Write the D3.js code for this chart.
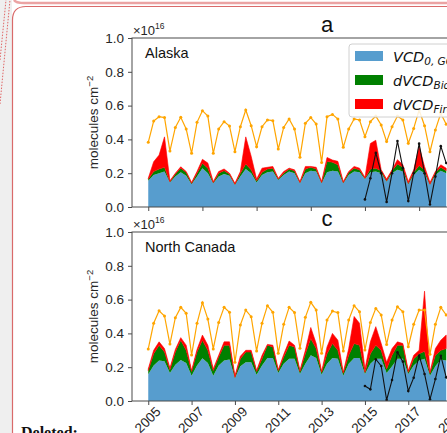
<!DOCTYPE html>
<html>
<head>
<meta charset="utf-8">
<script src="https://cdn.jsdelivr.net/npm/d3@7"></script>
<style>
  body { margin: 0; background: #fff; }
  svg { display: block; font-family: "Liberation Sans", Arial, sans-serif; }
</style>
</head>
<body>
<div id="chart"></div>
<script>
// quarterly samples, 2005.0 .. 2018.75
const quarters = d3.range(56).map(i => 2005 + i / 4);
const blackStart = 40; // satellite series begins 2015.0

const alaskaVcd0 = [0.155,0.19,0.20,0.21, 0.145,0.18,0.205,0.185, 0.135,0.18,0.229,0.2, 0.14,0.18,0.195,0.185,
  0.13,0.18,0.225,0.2, 0.145,0.19,0.205,0.21, 0.16,0.19,0.21,0.2, 0.14,0.2,0.215,0.21,
  0.14,0.205,0.215,0.21, 0.14,0.19,0.21,0.205, 0.165,0.205,0.21,0.2, 0.15,0.2,0.22,0.21,
  0.135,0.19,0.22,0.2, 0.13,0.19,0.215,0.2];
const alaskaBio = [0.01,0.02,0.025,0.025, 0.005,0.015,0.025,0.02, 0.005,0.02,0.03,0.03, 0.005,0.02,0.02,0.01,
  0.005,0.02,0.03,0.02, 0.01,0.015,0.02,0.02, 0.005,0.01,0.015,0.015, 0.005,0.025,0.02,0.015,
  0.005,0.065,0.05,0.04, 0.005,0.015,0.02,0.015, 0.005,0.02,0.02,0.015, 0.005,0.015,0.035,0.025,
  0.005,0.015,0.025,0.02, 0.005,0.015,0.02,0.015];
const alaskaFire = [0.005,0.058,0.082,0.18, 0.005,0.005,0.008,0.005, 0.005,0.01,0.023,0.03, 0.005,0.01,0.01,0.005,
  0.005,0.01,0.16,0.08, 0.01,0.025,0.01,0.01, 0.005,0.01,0.005,0.005, 0.005,0.015,0.005,0.01,
  0.005,0.023,0.013,0.02, 0.005,0.005,0.01,0.01, 0.005,0.151,0.165,0.005, 0.01,0.005,0.025,0.015,
  0.01,0.015,0.115,0.02, 0.01,0.005,0.015,0.015];
const alaskaOrange = [0.383,0.509,0.534,0.529, 0.331,0.471,0.531,0.462, 0.318,0.501,0.570,0.538, 0.318,0.462,0.505,0.479,
  0.327,0.475,0.574,0.481, 0.357,0.475,0.515,0.511, 0.343,0.471,0.521,0.462, 0.294,0.495,0.529,0.491,
  0.264,0.534,0.548,0.521, 0.353,0.462,0.521,0.515, 0.416,0.505,0.538,0.485, 0.387,0.475,0.538,0.515,
  0.377,0.465,0.574,0.481, 0.327,0.456,0.554,0.49];
const alaskaBlack = [0.045,0.17,0.32,0.2, 0.03,0.2,0.39,0.23, 0.035,0.2,0.375,0.2, 0.015,0.18,0.36,0.26];

const canadaVcd0 = [0.158,0.21,0.24,0.235, 0.165,0.215,0.243,0.225, 0.15,0.21,0.253,0.225, 0.15,0.21,0.24,0.245,
  0.134,0.205,0.23,0.23, 0.155,0.21,0.255,0.255, 0.165,0.22,0.25,0.25, 0.16,0.22,0.27,0.255,
  0.155,0.22,0.255,0.25, 0.15,0.22,0.255,0.255, 0.16,0.22,0.25,0.25, 0.165,0.205,0.25,0.25,
  0.16,0.21,0.24,0.25, 0.15,0.205,0.245,0.24];
const canadaBio = [0.022,0.07,0.09,0.055, 0.02,0.075,0.117,0.075, 0.025,0.08,0.107,0.075, 0.03,0.05,0.09,0.085,
  0.006,0.045,0.06,0.06, 0.02,0.04,0.075,0.065, 0.015,0.04,0.08,0.07, 0.015,0.06,0.1,0.055,
  0.015,0.06,0.085,0.05, 0.015,0.05,0.085,0.075, 0.01,0.06,0.08,0.05, 0.025,0.065,0.08,0.08,
  0.01,0.04,0.04,0.045, 0.015,0.065,0.055,0.07];
const canadaFire = [0.01,0.02,0.02,0.02, 0.01,0.015,0.015,0.03, 0.005,0.015,0.03,0.03, 0.01,0.01,0.02,0.02,
  0.01,0.015,0.01,0.01, 0.005,0.02,0.005,0.01, 0.005,0.015,0.025,0.01, 0.005,0.02,0.065,0.03,
  0.005,0.04,0.06,0.06, 0.005,0.04,0.16,0.13, 0.02,0.07,0.11,0.04, 0.04,0.04,0.02,0.01,
  0.01,0.02,0.02,0.355, 0.005,0.04,0.06,0.08];
const canadaOrange = [0.308,0.46,0.534,0.503, 0.337,0.493,0.554,0.519, 0.272,0.46,0.582,0.485, 0.308,0.465,0.554,0.525,
  0.229,0.45,0.538,0.499, 0.296,0.46,0.564,0.525, 0.282,0.454,0.554,0.523, 0.312,0.495,0.584,0.538,
  0.282,0.479,0.532,0.523, 0.296,0.479,0.564,0.528, 0.302,0.465,0.548,0.509, 0.335,0.479,0.558,0.528,
  0.321,0.454,0.538,0.538, 0.276,0.454,0.554,0.509];
const canadaBlack = [0.089,0.069,0.247,0.207, 0.006,0.124,0.288,0.233, 0.059,0.138,0.268,0.16, 0.01,0.13,0.268,0.14];

const yTicks = [0.0, 0.2, 0.4, 0.6, 0.8, 1.0];
const topXTicks = [2005, 2007.5, 2010, 2012.5, 2015, 2017.5];
const bottomXTicks = [2005, 2007, 2009, 2011, 2013, 2015, 2017, 2019];

const seriesKeys = ["vcd0", "bio", "fire"];
const seriesColors = { vcd0: "#579dce", bio: "#008000", fire: "#ff0000" };

const W = 447, H = 433;
const svg = d3.select("#chart").append("svg").attr("width", W).attr("height", H);

// document backdrop
svg.append("rect").attr("width", W).attr("height", H).attr("fill", "#fff");
svg.append("rect").attr("width", 12).attr("height", H).attr("fill", "#efefef");
svg.append("line").attr("x1", 0).attr("y1", 104).attr("x2", 10).attr("y2", 0)
  .attr("stroke", "#e06666").attr("stroke-width", 1).attr("stroke-dasharray", "1.5,1.5");
svg.append("line").attr("x1", 0).attr("y1", 60).attr("x2", 6).attr("y2", 0)
  .attr("stroke", "#e06666").attr("stroke-width", 1).attr("stroke-dasharray", "1.5,1.5");
svg.append("path").attr("d", "M14,0 Q16,3 24,3 H447")
  .attr("fill", "none").attr("stroke", "#eba3a3").attr("stroke-width", 2.5);
svg.append("path").attr("d", "M12.5,433 V20 Q12.5,6.5 26,6.5 H447")
  .attr("fill", "none").attr("stroke", "#d96a6a").attr("stroke-width", 1.2);
svg.append("text").attr("x", 21).attr("y", 438)
  .style("font-family", "'Liberation Serif', 'Times New Roman', serif")
  .style("font-weight", "bold").style("font-size", "16px").attr("fill", "#111")
  .text("Deleted:");

const left = 132, plotH = 169;
const x = d3.scaleLinear().domain([2004.25, 2019.5]).range([left, left + 15.25 * 21.67]);

function drawPanel(top, opts) {
  const y = d3.scaleLinear().domain([0, 1]).range([top + plotH, top]);
  const g = svg.append("g");
  const clipId = "clip" + top;
  g.append("clipPath").attr("id", clipId).append("rect")
    .attr("x", left).attr("y", top).attr("width", W - left).attr("height", plotH);

  const rows = quarters.map((t, i) => ({ t, vcd0: opts.vcd0[i], bio: opts.bio[i], fire: opts.fire[i] }));
  const stacked = d3.stack().keys(seriesKeys)(rows);
  const area = d3.area()
    .x(d => x(d.data.t))
    .y0(d => y(d[0]))
    .y1(d => y(d[1]));

  const plot = g.append("g").attr("clip-path", `url(#${clipId})`);
  plot.selectAll(".layer").data(stacked).enter().append("path")
    .attr("class", "layer")
    .attr("d", area)
    .attr("fill", d => seriesColors[d.key])
    .attr("stroke", d => d.key === "fire" ? "#ff0000" : "none")
    .attr("stroke-width", 0.6);

  const orange = quarters.map((t, i) => ({ t, v: opts.orange[i] }));
  const line = d3.line().x(d => x(d.t)).y(d => y(d.v));
  plot.append("path").datum(orange).attr("d", line)
    .attr("fill", "none").attr("stroke", "#ffa500").attr("stroke-width", 1.2);
  plot.selectAll(".odot").data(orange).enter().append("circle")
    .attr("class", "odot").attr("cx", d => x(d.t)).attr("cy", d => y(d.v)).attr("r", 1.5)
    .attr("fill", "#ffa500");

  const black = opts.black.map((v, i) => ({ t: quarters[blackStart + i], v }));
  plot.append("path").datum(black).attr("d", line)
    .attr("fill", "none").attr("stroke", "#111").attr("stroke-width", 1.1);
  plot.selectAll(".bdot").data(black).enter().append("circle")
    .attr("class", "bdot").attr("cx", d => x(d.t)).attr("cy", d => y(d.v)).attr("r", 1.3)
    .attr("fill", "#111");

  // frame
  g.append("rect").attr("x", left).attr("y", top).attr("width", x.range()[1] - left).attr("height", plotH)
    .attr("fill", "none").attr("stroke", "#4a4a4a").attr("stroke-width", 1);

  const yAxis = g.append("g").attr("transform", `translate(${left},0)`)
    .call(d3.axisLeft(y).tickValues(yTicks).tickFormat(d3.format(".1f")).tickSize(4).tickPadding(4));
  yAxis.select(".domain").remove();
  yAxis.selectAll("line").attr("stroke", "#4a4a4a");
  yAxis.selectAll("text").style("font-size", "13.5px").attr("fill", "#262626")
    .style("font-family", "'Liberation Sans', Arial, sans-serif");

  const xAxis = g.append("g").attr("transform", `translate(0,${top + plotH})`)
    .call(d3.axisBottom(x).tickValues(opts.xTicks).tickFormat(opts.xLabels ? d3.format("d") : "").tickSize(4));
  xAxis.select(".domain").remove();
  xAxis.selectAll("line").attr("stroke", "#4a4a4a");
  if (opts.xLabels) {
    xAxis.selectAll("text")
      .style("font-size", "13.5px").attr("fill", "#262626")
      .style("font-family", "'Liberation Sans', Arial, sans-serif")
      .attr("y", 0).attr("dy", null)
      .attr("text-anchor", "middle")
      .attr("dominant-baseline", "central")
      .attr("transform", "translate(-1,19) rotate(-45)");
  }

  // offset text
  const off = g.append("text").attr("x", 133).attr("y", top - 3)
    .style("font-size", "13px").attr("fill", "#262626");
  off.append("tspan").text("×10");
  off.append("tspan").attr("dy", -6).style("font-size", "8.5px").text("16");

  g.append("text").attr("x", 327).attr("y", top - 6).attr("text-anchor", "middle")
    .style("font-size", "22px").attr("fill", "#111").text(opts.title);

  g.append("text").attr("x", 145).attr("y", top + 20)
    .style("font-size", "14.5px").attr("fill", "#111").text(opts.region);

  const yl = g.append("text")
    .attr("transform", `translate(98,${top + plotH / 2}) rotate(-90)`)
    .attr("text-anchor", "middle")
    .style("font-size", "13.5px").attr("fill", "#262626");
  yl.append("tspan").text("molecules cm");
  yl.append("tspan").attr("dy", -5).style("font-size", "9.5px").text("−2");

  return g;
}

const gA = drawPanel(38, {
  vcd0: alaskaVcd0, bio: alaskaBio, fire: alaskaFire, orange: alaskaOrange, black: alaskaBlack,
  xTicks: topXTicks, xLabels: false, title: "a", region: "Alaska"
});
drawPanel(232, {
  vcd0: canadaVcd0, bio: canadaBio, fire: canadaFire, orange: canadaOrange, black: canadaBlack,
  xTicks: bottomXTicks, xLabels: true, title: "c", region: "North Canada"
});

// legend (top panel)
const legendItems = [
  { key: "vcd0", main: "VCD", sub: "0, GC" },
  { key: "bio", main: "dVCD", sub: "Bio" },
  { key: "fire", main: "dVCD", sub: "Fire" }
];
const lg = gA.append("g");
lg.append("rect").attr("x", 349).attr("y", 44).attr("width", 140).attr("height", 73).attr("rx", 3)
  .attr("fill", "#fff").attr("fill-opacity", 0.85).attr("stroke", "#d0d0d0");
const li = lg.selectAll(".li").data(legendItems).enter().append("g")
  .attr("transform", (d, i) => `translate(0,${i * 24})`);
li.append("rect").attr("x", 355).attr("y", 51).attr("width", 28).attr("height", 10)
  .attr("fill", d => seriesColors[d.key]);
const lt = li.append("text").attr("x", 393).attr("y", 61.5)
  .style("font-family", "'DejaVu Sans', sans-serif").style("font-style", "italic")
  .style("font-size", "14.5px").attr("fill", "#111");
lt.append("tspan").text(d => d.main);
lt.append("tspan").attr("dy", 3).style("font-size", "10.5px").text(d => d.sub);
</script>
</body>
</html>
